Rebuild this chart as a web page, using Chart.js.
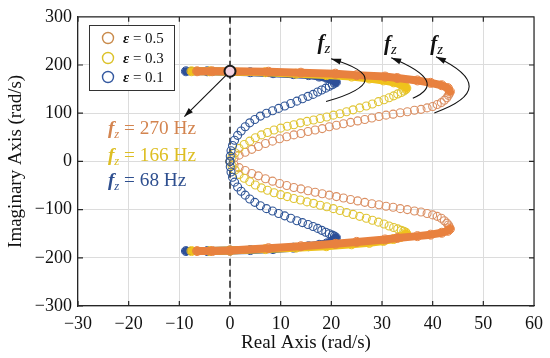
<!DOCTYPE html>
<html><head><meta charset="utf-8">
<script src="https://cdn.jsdelivr.net/npm/chart.js@4/dist/chart.umd.min.js"></script>
<style>html,body{margin:0;padding:0;background:#fff}</style>
</head><body>
<canvas id="c" width="550" height="358"></canvas>
<script>
const xTickValues = [-30,-20,-10,0,10,20,30,40,50,60];
const yTickValues = [-300,-200,-100,0,100,200,300];
const seriesLabels = ['0.5','0.3','0.1'];
const fzLabels = ['270 Hz','166 Hz','68 Hz'];

// ε = 0.5 (fz = 270 Hz)
const orangeUpperSparse = [[0,0],[0.8,7],[1.8,13],[3.0,19],[4.3,25],[5.6,31],[7.0,37],[8.4,42],[9.8,47],[11.2,51],[12.6,55],[14.0,58],[15.4,62],[16.8,65],[18.2,68],[19.6,72],[21.0,75],[22.4,78],[23.8,81],[25.2,84],[26.6,87],[28.0,90],[29.4,93],[30.8,96],[32.2,98],[33.6,101],[35.0,103],[36.4,106],[37.7,108],[38.9,111],[40.0,114],[40.9,118],[41.7,122],[42.3,127],[42.8,132],[43.1,137],[43.3,141]];
const orangeUpperBand = [[43.4,145],[43.0,152],[41.8,158],[39.6,163],[37.0,168],[33.0,173],[30.6,176],[25.0,179],[20.8,182],[14.0,184],[7.6,186],[0,187],[-3.5,187],[-6.5,187]];
const orangeLowerSparse = [[0,0],[0.8,-7],[1.8,-13],[3.0,-19],[4.3,-25],[5.6,-30],[7.0,-36],[8.4,-41],[9.8,-46],[11.2,-50],[12.6,-54],[14.0,-57],[15.4,-61],[16.8,-64],[18.2,-67],[19.6,-70],[21.0,-73],[22.4,-76],[23.8,-79],[25.2,-82],[26.6,-85],[28.0,-88],[29.4,-90],[30.8,-93],[32.2,-95],[33.6,-98],[35.0,-100],[36.4,-103],[37.7,-105],[38.9,-108],[40.0,-111],[40.9,-114],[41.7,-118],[42.3,-123],[42.8,-128],[43.1,-132],[43.3,-136]];
const orangeLowerBand = [[43.4,-140],[43.0,-144],[41.8,-148],[39.6,-152],[37.0,-155],[33.0,-159],[30.6,-162],[25.0,-167],[20.8,-171],[14.0,-176],[7.6,-180],[0,-185],[-3.5,-186],[-6.5,-186]];

// ε = 0.3 (fz = 166 Hz)
const yellowUpperSparse = [[0,0],[0.4,9],[1.0,18],[1.8,27],[2.8,35],[3.9,42],[5.0,49],[6.2,55],[7.4,60],[8.7,65],[10.0,69],[11.3,73],[12.6,76],[13.9,80],[15.2,83],[16.5,86],[17.8,89],[19.1,92],[20.4,96],[21.7,99],[23.0,103],[24.3,107],[25.6,111],[26.9,115],[28.1,119],[29.3,124],[30.4,128],[31.4,132],[32.3,136],[33.1,140],[33.8,143],[34.3,146],[34.7,149]];
const yellowUpperBand = [[34.8,152],[34.5,156],[33.7,160],[32.3,164],[30.3,168],[27.5,172],[24.0,176],[19.0,179],[13.0,182],[7.0,185],[0,186],[-4.0,187],[-7.6,187]];
const yellowLowerSparse = [[0,0],[0.4,-9],[1.0,-18],[1.8,-27],[2.8,-35],[3.9,-42],[5.0,-49],[6.2,-55],[7.4,-60],[8.7,-65],[10.0,-69],[11.3,-73],[12.6,-77],[13.9,-80],[15.2,-84],[16.5,-87],[17.8,-91],[19.1,-94],[20.4,-98],[21.7,-102],[23.0,-106],[24.3,-110],[25.6,-114],[26.9,-118],[28.1,-122],[29.3,-126],[30.4,-130],[31.4,-134],[32.3,-137],[33.1,-140],[33.8,-143],[34.3,-145],[34.7,-147]];
const yellowLowerBand = [[34.8,-150],[34.5,-153],[33.7,-157],[32.3,-161],[30.3,-165],[27.5,-169],[24.0,-172],[19.0,-176],[13.0,-179],[7.0,-182],[0,-185],[-4.0,-186],[-7.6,-186]];

// ε = 0.1 (fz = 68 Hz)
const blueUpperSparse = [[0,0],[0.05,11],[0.2,22],[0.5,33],[0.9,44],[1.5,54],[2.2,63],[3.0,72],[3.9,80],[4.9,87],[6.0,94],[7.2,100],[8.4,105],[9.6,110],[10.8,115],[12.0,120],[13.2,125],[14.3,130],[15.4,135],[16.4,139],[17.3,144],[18.1,148],[18.9,152],[19.6,156],[20.2,159],[20.6,162]];
const blueUpperBand = [[20.9,164],[20.7,167],[20.1,170],[19.1,173],[17.6,176],[15.5,179],[12.5,181],[8.5,183],[4.0,185],[0,186],[-4.5,187],[-8.7,187]];
const blueLowerSparse = [[0,0],[0.05,-11],[0.2,-22],[0.5,-33],[0.9,-43],[1.5,-53],[2.2,-62],[3.0,-70],[3.9,-78],[4.9,-85],[6.0,-92],[7.2,-98],[8.4,-103],[9.6,-108],[10.8,-113],[12.0,-118],[13.2,-123],[14.3,-127],[15.4,-131],[16.4,-135],[17.3,-139],[18.1,-143],[18.9,-147],[19.6,-150],[20.2,-153],[20.6,-155]];
const blueLowerBand = [[20.9,-158],[20.7,-162],[20.1,-166],[19.1,-170],[17.6,-173],[15.5,-176],[12.5,-179],[8.5,-182],[4.0,-184],[0,-185],[-4.5,-186],[-8.7,-186]];

const SERIF = '"Liberation Serif", "Times New Roman", serif';
const colBand = ['#E8813F','#EFC21C','#2D4F98'];
const colSparse = ['#DB9064','#E0C534','#2F5597'];
const colLegend = ['#C98B4C','#DCC22A','#3559A0'];
const colText = ['#D3844F','#DDBE22','#2E4F8F'];

function pts(a){ return a.map(p => ({x:p[0], y:p[1]})); }
function sparse(a, color, order){
  return {data:pts(a), showLine:false, pointRadius:4, pointBorderWidth:1.1,
    pointBorderColor:color, pointBackgroundColor:'rgba(0,0,0,0)', borderColor:color, order};
}
function band(a, color, order){
  return {data:pts(a), showLine:true, borderColor:color, borderWidth:8,
    borderCapStyle:'round', borderJoinStyle:'round', tension:0,
    pointRadius:4.5, pointBorderWidth:1, pointBorderColor:color,
    pointBackgroundColor:'rgba(0,0,0,0)', order};
}

function stretchText(ctx, str, x, y, sx){
  ctx.save(); ctx.translate(x, y); ctx.scale(sx, 1); ctx.fillText(str, 0, 0); ctx.restore();
  return ctx.measureText(str).width * sx;
}
function fzText(ctx, x, y, size, color, rest, sx){
  ctx.fillStyle = color; ctx.textBaseline = 'alphabetic'; ctx.textAlign = 'left';
  ctx.font = 'bold italic ' + size + 'px ' + SERIF;
  let w = stretchText(ctx, 'f', x, y, sx);
  ctx.font = 'italic ' + Math.round(size*0.68) + 'px ' + SERIF;
  w += stretchText(ctx, 'z', x + w, y + size*0.22, sx);
  if (rest){
    ctx.font = size + 'px ' + SERIF;
    stretchText(ctx, ' = ' + rest, x + w, y, sx);
  }
}
function arrowHead(ctx, tx, ty, fx, fy, len, hw){
  const a = Math.atan2(ty - fy, tx - fx);
  const bx = tx - len*Math.cos(a), by = ty - len*Math.sin(a);
  ctx.beginPath();
  ctx.moveTo(tx, ty);
  ctx.lineTo(bx - hw*Math.sin(a), by + hw*Math.cos(a));
  ctx.lineTo(bx + hw*Math.sin(a), by - hw*Math.cos(a));
  ctx.closePath(); ctx.fill();
}

const decor = {
  id:'decor',
  beforeDatasetsDraw(chart){
    const {ctx, chartArea:a, scales:{x}} = chart;
    const px = x.getPixelForValue(0);
    ctx.save(); ctx.strokeStyle = '#222'; ctx.lineWidth = 1.5; ctx.setLineDash([7,4]);
    ctx.beginPath(); ctx.moveTo(px, a.top); ctx.lineTo(px, a.bottom); ctx.stroke(); ctx.restore();
  },
  afterDatasetsDraw(chart){
    const {ctx, chartArea:a, scales:{x, y}} = chart;
    const X = v => x.getPixelForValue(v), Y = v => y.getPixelForValue(v);
    ctx.save();
    ctx.strokeStyle = '#262626'; ctx.lineWidth = 1.2;
    ctx.beginPath();
    ctx.moveTo(a.left, a.top); ctx.lineTo(a.right, a.top); ctx.lineTo(a.right, a.bottom);
    xTickValues.forEach(v => { const p = X(v); ctx.moveTo(p, a.bottom); ctx.lineTo(p, a.bottom-5); ctx.moveTo(p, a.top); ctx.lineTo(p, a.top+5); });
    yTickValues.forEach(v => { const p = Y(v); ctx.moveTo(a.left, p); ctx.lineTo(a.left+5, p); ctx.moveTo(a.right, p); ctx.lineTo(a.right-5, p); });
    ctx.stroke();

    ctx.strokeStyle = '#111'; ctx.fillStyle = '#111'; ctx.lineWidth = 1.1;
    const sx0 = X(0), sy0 = Y(187), ex = X(-9.0), ey = Y(93);
    ctx.beginPath(); ctx.moveTo(sx0, sy0); ctx.lineTo(ex, ey); ctx.stroke();
    arrowHead(ctx, ex, ey, sx0, sy0, 9, 3);
    ctx.beginPath(); ctx.arc(sx0, sy0, 5.5, 0, Math.PI*2);
    ctx.fillStyle = '#F3D3E2'; ctx.fill(); ctx.lineWidth = 2; ctx.strokeStyle = '#1a1a1a'; ctx.stroke();

    const curves = [
      [[18.96,124.1],[26.67,169.0],[19.94,213.1]],
      [[36.08,131.0],[38.69,168.9],[31.82,215.2]],
      [[40.33,100.6],[47.2,155.2],[40.65,217.2]]
    ];
    ctx.strokeStyle = '#111'; ctx.fillStyle = '#111'; ctx.lineWidth = 1.1;
    curves.forEach(c => {
      const T = [X(c[0][0]), Y(c[0][1])], B = [X(c[1][0]), Y(c[1][1])], H = [X(c[2][0]), Y(c[2][1])];
      const C = [2*B[0] - (T[0]+H[0])/2, 2*B[1] - (T[1]+H[1])/2];
      ctx.beginPath(); ctx.moveTo(T[0], T[1]); ctx.quadraticCurveTo(C[0], C[1], H[0], H[1]); ctx.stroke();
      arrowHead(ctx, H[0], H[1], C[0], C[1], 10, 3);
    });
    [[17.25,233.8],[30.4,231.7],[39.5,231.7]].forEach(p => fzText(ctx, X(p[0]), Y(p[1]), 20, '#111', null, 1.05));

    fzText(ctx, X(-24.1), Y(56), 18, colText[0], fzLabels[0], 1.07);
    fzText(ctx, X(-24.1), Y(0), 18, colText[1], fzLabels[1], 1.07);
    fzText(ctx, X(-24.1), Y(-52), 18, colText[2], fzLabels[2], 1.07);

    ctx.fillStyle = '#fff'; ctx.fillRect(89.5, 25.5, 85, 65);
    ctx.strokeStyle = '#333'; ctx.lineWidth = 1; ctx.strokeRect(89.5, 25.5, 85, 65);
    const ly = [38, 58, 77];
    seriesLabels.forEach((s, i) => {
      ctx.beginPath(); ctx.arc(108, ly[i], 5.5, 0, Math.PI*2);
      ctx.strokeStyle = colLegend[i]; ctx.lineWidth = 1.4; ctx.stroke();
      ctx.fillStyle = '#111'; ctx.textBaseline = 'middle'; ctx.textAlign = 'left';
      ctx.font = 'bold italic 15px ' + SERIF;
      const w = ctx.measureText('ε').width;
      ctx.fillText('ε', 123, ly[i] + 1);
      ctx.font = '15px ' + SERIF;
      ctx.fillText(' = ' + s, 123 + w, ly[i] + 1);
    });
    ctx.restore();
  }
};

const datasets = [
  band(orangeUpperBand, colBand[0], 1), band(orangeLowerBand, colBand[0], 1),
  band(yellowUpperBand, colBand[1], 2), band(yellowLowerBand, colBand[1], 2),
  band(blueUpperBand, colBand[2], 3), band(blueLowerBand, colBand[2], 3),
  sparse(blueUpperSparse, colSparse[2], 4), sparse(blueLowerSparse, colSparse[2], 4),
  sparse(yellowUpperSparse, colSparse[1], 5), sparse(yellowLowerSparse, colSparse[1], 5),
  sparse(orangeUpperSparse, colSparse[0], 6), sparse(orangeLowerSparse, colSparse[0], 6)
];

new Chart(document.getElementById('c'), {
  type:'scatter',
  data:{datasets},
  options:{
    responsive:false, animation:false, devicePixelRatio:1,
    layout:{padding:{left:0, right:8, top:15, bottom:0}},
    plugins:{legend:{display:false}, tooltip:{enabled:false}},
    scales:{
      x:{type:'linear', min:-30, max:60,
        afterBuildTicks: s => { s.ticks = xTickValues.map(v => ({value:v})); },
        afterFit: s => { s.height = 52; },
        grid:{color:'#DCDCDC', lineWidth:1, drawTicks:false},
        border:{color:'#262626', width:1.2},
        ticks:{font:{family:SERIF, size:18}, color:'#111', padding:7,
          callback: v => (v < 0 ? '\u2212' + Math.abs(v) : String(v))},
        title:{display:true, text:'Real Axis (rad/s)', font:{family:SERIF, size:19}, color:'#111', padding:{top:0, bottom:4}}
      },
      y:{type:'linear', min:-300, max:300,
        afterBuildTicks: s => { s.ticks = yTickValues.map(v => ({value:v})); },
        afterFit: s => { s.width = 78; },
        grid:{color:'#DCDCDC', lineWidth:1, drawTicks:false},
        border:{color:'#262626', width:1.2},
        ticks:{font:{family:SERIF, size:18}, color:'#111', padding:6,
          callback: v => (v < 0 ? '\u2212' + Math.abs(v) : String(v))},
        title:{display:true, text:'Imaginary Axis (rad/s)', font:{family:SERIF, size:19}, color:'#111', padding:{top:5, bottom:0}}
      }
    }
  },
  plugins:[decor]
});
</script>
</body></html>
